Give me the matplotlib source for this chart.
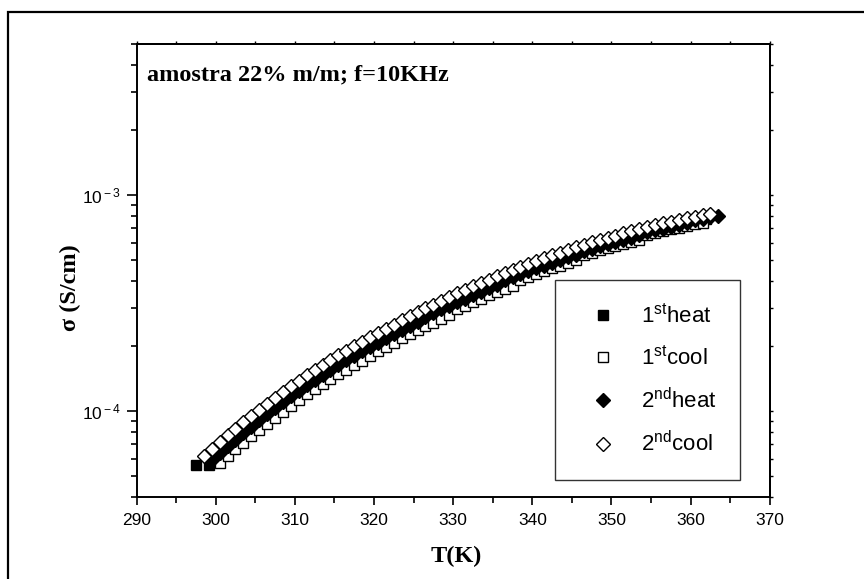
import matplotlib
matplotlib.use('Agg')
import numpy as np
import matplotlib.pyplot as plt
from matplotlib.patches import Rectangle
from matplotlib.ticker import FixedLocator, FuncFormatter, LogLocator, NullFormatter

plt.rcParams['font.family'] = ['Liberation Sans', 'DejaVu Sans']
plt.rcParams['mathtext.fontset'] = 'custom'
plt.rcParams['mathtext.rm'] = 'Liberation Sans'
plt.rcParams['mathtext.it'] = 'Liberation Sans:italic'
plt.rcParams['mathtext.bf'] = 'Liberation Sans:bold'

# conductivity in units of 1e-4 S/cm
T_heat1 = [297.5, 299.2, 300, 301, 302, 303, 304, 305, 306, 307, 308, 309, 310,
           311, 312, 313, 314, 315, 316, 317, 318, 319, 320, 321, 322, 323, 324,
           325, 326, 327, 328, 329, 330, 331, 332, 333, 334, 335, 336, 337, 338,
           339, 340, 341, 342, 343, 344, 345, 346, 347, 348, 349, 350, 351, 352,
           353, 354, 355, 356, 357, 358, 359, 360, 361, 362]
s_heat1 = [0.564, 0.564, 0.609, 0.654, 0.702, 0.753, 0.806, 0.862, 0.932, 0.994,
           1.059, 1.126, 1.195, 1.266, 1.339, 1.414, 1.491, 1.570, 1.670, 1.754,
           1.840, 1.929, 2.020, 2.114, 2.211, 2.311, 2.414, 2.519, 2.656, 2.768,
           2.883, 3.000, 3.120, 3.243, 3.368, 3.496, 3.626, 3.758, 3.935, 4.071,
           4.209, 4.347, 4.485, 4.624, 4.764, 4.905, 5.046, 5.187, 5.387, 5.531,
           5.675, 5.818, 5.961, 6.103, 6.244, 6.384, 6.629, 6.769, 6.907, 7.042,
           7.175, 7.306, 7.513, 7.640, 7.764]

T_cool1 = [300.5, 301.5, 302.5, 303.5, 304.5, 305.5, 306.5, 307.5, 308.5, 309.5,
           310.5, 311.5, 312.5, 313.5, 314.5, 315.5, 316.5, 317.5, 318.5, 319.5,
           320.5, 321.5, 322.5, 323.5, 324.5, 325.5, 326.5, 327.5, 328.5, 329.5,
           330.5, 331.5, 332.5, 333.5, 334.5, 335.5, 336.5, 337.5, 338.5, 339.5,
           340.5, 341.5, 342.5, 343.5, 344.5, 345.5, 346.5, 347.5, 348.5, 349.5,
           350.5, 351.5, 352.5, 353.5, 354.5, 355.5, 356.5, 357.5, 358.5, 359.5,
           360.5, 361.5]
s_cool1 = [0.576, 0.619, 0.664, 0.712, 0.761, 0.814, 0.869, 0.927, 0.987, 1.048,
           1.126, 1.192, 1.260, 1.330, 1.401, 1.474, 1.549, 1.627, 1.706, 1.787,
           1.894, 1.982, 2.072, 2.165, 2.261, 2.358, 2.459, 2.561, 2.666, 2.774,
           2.954, 3.069, 3.186, 3.306, 3.428, 3.552, 3.677, 3.803, 4.046, 4.176,
           4.307, 4.439, 4.571, 4.705, 4.839, 4.972, 5.254, 5.392, 5.530, 5.668,
           5.805, 5.942, 6.077, 6.211, 6.522, 6.657, 6.791, 6.921, 7.050, 7.176,
           7.300, 7.421]

T_heat2 = [299.5, 300.5, 301.5, 302.5, 303.5, 304.5, 305.5, 306.5, 307.5, 308.5,
           309.5, 310.5, 311.5, 312.5, 313.5, 314.5, 315.5, 316.5, 317.5, 318.5,
           319.5, 320.5, 321.5, 322.5, 323.5, 324.5, 325.5, 326.5, 327.5, 328.5,
           329.5, 330.5, 331.5, 332.5, 333.5, 334.5, 335.5, 336.5, 337.5, 338.5,
           339.5, 340.5, 341.5, 342.5, 343.5, 344.5, 345.5, 346.5, 347.5, 348.5,
           349.5, 350.5, 351.5, 352.5, 353.5, 354.5, 355.5, 356.5, 357.5, 358.5,
           359.5, 360.5, 361.5, 362.5, 363.5]
s_heat2 = [0.594, 0.639, 0.686, 0.736, 0.789, 0.844, 0.903, 0.970, 1.034, 1.101,
           1.169, 1.240, 1.312, 1.387, 1.464, 1.542, 1.623, 1.715, 1.800, 1.888,
           1.978, 2.071, 2.167, 2.265, 2.367, 2.471, 2.578, 2.718, 2.831, 2.948,
           3.066, 3.188, 3.312, 3.439, 3.569, 3.700, 3.833, 4.016, 4.154, 4.292,
           4.430, 4.569, 4.709, 4.849, 4.992, 5.134, 5.275, 5.488, 5.633, 5.777,
           5.921, 6.064, 6.207, 6.349, 6.489, 6.713, 6.852, 6.990, 7.124, 7.257,
           7.387, 7.618, 7.743, 7.865, 7.984]

T_cool2 = [298.5, 299.5, 300.5, 301.5, 302.5, 303.5, 304.5, 305.5, 306.5, 307.5,
           308.5, 309.5, 310.5, 311.5, 312.5, 313.5, 314.5, 315.5, 316.5, 317.5,
           318.5, 319.5, 320.5, 321.5, 322.5, 323.5, 324.5, 325.5, 326.5, 327.5,
           328.5, 329.5, 330.5, 331.5, 332.5, 333.5, 334.5, 335.5, 336.5, 337.5,
           338.5, 339.5, 340.5, 341.5, 342.5, 343.5, 344.5, 345.5, 346.5, 347.5,
           348.5, 349.5, 350.5, 351.5, 352.5, 353.5, 354.5, 355.5, 356.5, 357.5,
           358.5, 359.5, 360.5, 361.5, 362.5]
s_cool2 = [0.619, 0.667, 0.717, 0.770, 0.826, 0.885, 0.947, 1.013, 1.081, 1.153,
           1.227, 1.303, 1.382, 1.463, 1.546, 1.632, 1.719, 1.809, 1.901, 1.996,
           2.093, 2.193, 2.296, 2.402, 2.511, 2.624, 2.740, 2.858, 2.980, 3.104,
           3.232, 3.362, 3.496, 3.632, 3.771, 3.913, 4.057, 4.203, 4.351, 4.500,
           4.650, 4.800, 4.950, 5.102, 5.254, 5.408, 5.562, 5.715, 5.870, 6.025,
           6.179, 6.333, 6.486, 6.639, 6.790, 6.940, 7.089, 7.236, 7.381, 7.523,
           7.663, 7.800, 7.935, 8.066, 8.193]

labels = [r'1$^{\rm st}$heat', r'1$^{\rm st}$cool', r'2$^{\rm nd}$heat', r'2$^{\rm nd}$cool']
x_ticks = [290, 300, 310, 320, 330, 340, 350, 360, 370]
x_minor = [295, 305, 315, 325, 335, 345, 355, 365]

fig = plt.figure(figsize=(8.64, 5.79), dpi=100)
ax = fig.add_axes([0.158, 0.142, 0.733, 0.782])

# outer frame of the page
fig.patches.append(Rectangle((8 / 864, -0.05), 1.0, 1 - 12 / 579 + 0.05,
                             transform=fig.transFigure, fill=False,
                             edgecolor='black', linewidth=1.6, zorder=0))

ms = 7
ax.plot(T_heat1, np.array(s_heat1) * 1e-4, 's', ms=ms, mfc='black', mec='black', mew=1, label=labels[0])
ax.plot(T_cool1, np.array(s_cool1) * 1e-4, 's', ms=ms, mfc='white', mec='black', mew=1, label=labels[1])
ax.plot(T_heat2, np.array(s_heat2) * 1e-4, 'D', ms=ms, mfc='black', mec='black', mew=1, label=labels[2])
ax.plot(T_cool2, np.array(s_cool2) * 1e-4, 'D', ms=ms, mfc='white', mec='black', mew=1, label=labels[3])

ax.set_yscale('log')
ax.set_xlim(290, 370)
ax.set_ylim(4e-5, 5e-3)

ax.xaxis.set_major_locator(FixedLocator(x_ticks))
ax.xaxis.set_minor_locator(FixedLocator(x_minor))
ax.yaxis.set_major_locator(LogLocator(base=10))
ax.yaxis.set_minor_locator(LogLocator(base=10, subs=np.arange(2, 10)))
ax.yaxis.set_minor_formatter(NullFormatter())
ax.yaxis.set_major_formatter(FuncFormatter(lambda v, p: r'$10^{\rm %d}$' % int(round(np.log10(v)))))

for s in ax.spines.values():
    s.set_linewidth(1.4)
ax.tick_params(which='both', direction='out', width=1.2, labelsize=12.5)
ax.tick_params(axis='y', which='major', length=7.5)
ax.tick_params(axis='y', which='minor', length=4)
ax.tick_params(axis='x', which='major', length=6, pad=6)
ax.tick_params(axis='x', which='minor', length=4)

# short ticks on the opposite sides
top = ax.secondary_xaxis('top')
top.xaxis.set_major_locator(FixedLocator(x_ticks))
top.xaxis.set_minor_locator(FixedLocator(x_minor))
top.tick_params(which='both', direction='out', length=2.5, width=1, labeltop=False)
right = ax.secondary_yaxis('right')
right.yaxis.set_major_locator(LogLocator(base=10))
right.yaxis.set_minor_locator(LogLocator(base=10, subs=np.arange(2, 10)))
right.yaxis.set_minor_formatter(NullFormatter())
right.tick_params(which='both', direction='out', length=2.5, width=1, labelright=False)
for sec in (top, right):
    for s in sec.spines.values():
        s.set_linewidth(1.4)

ax.set_xlabel('T(K)', family='Liberation Serif', fontweight='bold', fontsize=17.5)
ax.xaxis.set_label_coords(0.505, -0.109)
ax.set_ylabel(r'σ (S/cm)', family='Liberation Serif', fontweight='bold', fontsize=17.5)
ax.yaxis.set_label_coords(-0.088, 0.461)
ax.text(0.017, 0.9315, 'amostra 22% m/m; f=10KHz', transform=ax.transAxes,
        family='Liberation Serif', fontweight='bold', fontsize=17.5, va='center')

leg = ax.legend(loc='lower right', bbox_to_anchor=(0.953, 0.037), fontsize=16,
                frameon=True, fancybox=False, edgecolor='black', borderpad=1.05,
                labelspacing=0.82, handletextpad=0.6, handlelength=2.2,
                borderaxespad=0, markerscale=0.95)
leg.get_frame().set_linewidth(1.0)

fig.savefig('out.png', dpi=100)
